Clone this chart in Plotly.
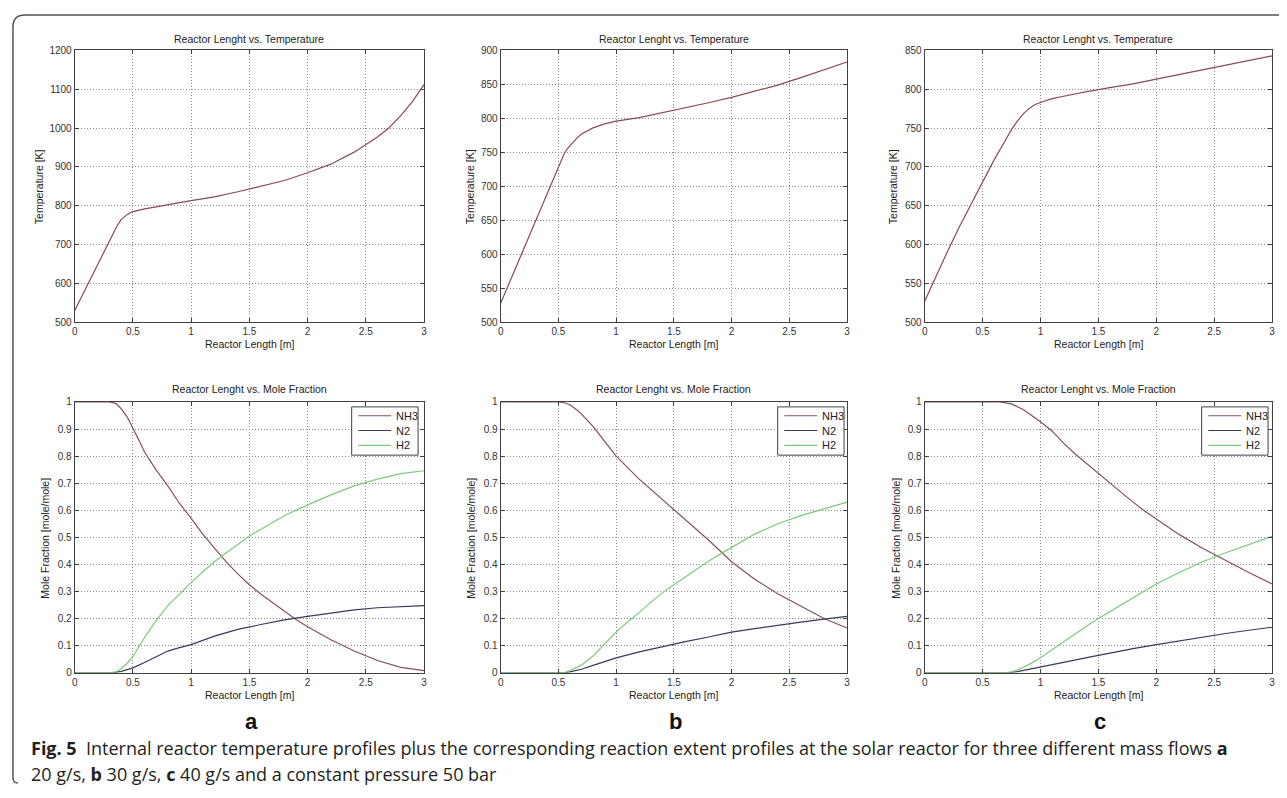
import plotly.graph_objects as go

# ---------------- data ----------------
x_ticks = [0, 0.5, 1, 1.5, 2, 2.5, 3]
x_tick_labels = ["0", "0.5", "1", "1.5", "2", "2.5", "3"]
mf_ticks = [0, 0.1, 0.2, 0.3, 0.4, 0.5, 0.6, 0.7, 0.8, 0.9, 1]
mf_tick_labels = ["0", "0.1", "0.2", "0.3", "0.4", "0.5", "0.6", "0.7", "0.8", "0.9", "1"]

# (a) 20 g/s temperature
temp_a_x = [0, 0.1, 0.2, 0.3, 0.36, 0.4, 0.45, 0.5, 0.6, 0.7, 0.8, 0.9, 1.0, 1.2, 1.4, 1.6, 1.8,
            2.0, 2.2, 2.4, 2.5, 2.6, 2.7, 2.8, 2.9, 3.0]
temp_a_T = [530, 590, 650, 710, 746, 765, 777, 785, 792, 797, 803, 808, 813, 823, 836, 850, 865,
            885, 907, 938, 957, 977, 1001, 1032, 1068, 1112]
# (b) 30 g/s temperature
temp_b_x = [0, 0.1, 0.2, 0.3, 0.4, 0.5, 0.55, 0.58, 0.62, 0.66, 0.7, 0.75, 0.8, 0.9, 1.0, 1.2,
            1.4, 1.6, 1.8, 2.0, 2.2, 2.4, 2.6, 2.8, 3.0]
temp_b_T = [528, 568, 608, 648, 690, 730, 748, 756, 764, 771, 777, 782, 786, 792, 796, 801,
            808, 815, 823, 831, 840, 849, 860, 871, 883]
# (c) 40 g/s temperature
temp_c_x = [0, 0.1, 0.2, 0.3, 0.4, 0.5, 0.6, 0.7, 0.75, 0.8, 0.85, 0.9, 0.95, 1.0, 1.1, 1.2, 1.4,
            1.6, 1.8, 2.0, 2.2, 2.4, 2.6, 2.8, 3.0]
temp_c_T = [527, 560, 592, 623, 652, 681, 709, 735, 748, 759, 768, 775, 780, 783, 788, 791, 797,
            802, 807, 813, 819, 825, 831, 837, 843]

# (a) mole fractions
nh3_a_x = [0, 0.3, 0.35, 0.4, 0.45, 0.5, 0.55, 0.6, 0.65, 0.7, 0.8, 0.9, 1.0, 1.1, 1.2, 1.3,
           1.4, 1.5, 1.6, 1.7, 1.8, 1.9, 2.0, 2.2, 2.4, 2.6, 2.8, 3.0]
nh3_a_y = [1, 1, 0.995, 0.975, 0.945, 0.905, 0.86, 0.815, 0.78, 0.748, 0.69, 0.625, 0.57, 0.512,
           0.46, 0.41, 0.365, 0.325, 0.29, 0.258, 0.228, 0.197, 0.17, 0.122, 0.08, 0.045, 0.02,
           0.008]
h2_a_x = [0, 0.3, 0.35, 0.4, 0.45, 0.5, 0.6, 0.7, 0.8, 0.9, 1.0, 1.1, 1.2, 1.3, 1.4, 1.5, 1.6,
          1.8, 2.0, 2.2, 2.4, 2.6, 2.8, 3.0]
h2_a_y = [0, 0, 0.003, 0.015, 0.035, 0.06, 0.13, 0.193, 0.248, 0.292, 0.333, 0.373, 0.41, 0.442,
          0.475, 0.505, 0.53, 0.58, 0.62, 0.657, 0.69, 0.715, 0.735, 0.746]
n2_a_x = [0, 0.33, 0.4, 0.5, 0.6, 0.7, 0.8, 0.9, 1.0, 1.2, 1.4, 1.6, 1.8, 2.0, 2.2, 2.4, 2.6,
          2.8, 3.0]
n2_a_y = [0, 0, 0.005, 0.018, 0.038, 0.06, 0.08, 0.093, 0.104, 0.135, 0.16, 0.178, 0.195, 0.208,
          0.22, 0.232, 0.24, 0.245, 0.248]

# (b) mole fractions
nh3_b_x = [0, 0.5, 0.55, 0.6, 0.66, 0.7, 0.8, 0.9, 1.0, 1.2, 1.4, 1.6, 1.8, 2.0, 2.2, 2.4, 2.6,
           2.8, 3.0]
nh3_b_y = [1, 1, 0.997, 0.99, 0.97, 0.955, 0.91, 0.855, 0.80, 0.715, 0.64, 0.565, 0.49, 0.41,
           0.345, 0.292, 0.245, 0.2, 0.165]
h2_b_x = [0, 0.55, 0.6, 0.7, 0.8, 0.9, 1.0, 1.1, 1.2, 1.3, 1.4, 1.5, 1.6, 1.7, 1.8, 1.9, 2.0,
          2.2, 2.4, 2.6, 2.8, 3.0]
h2_b_y = [0, 0, 0.008, 0.028, 0.062, 0.108, 0.15, 0.188, 0.222, 0.26, 0.295, 0.325, 0.355, 0.385,
          0.412, 0.438, 0.463, 0.512, 0.55, 0.58, 0.605, 0.63]
n2_b_x = [0, 0.55, 0.6, 0.7, 0.8, 0.9, 1.0, 1.2, 1.4, 1.6, 1.8, 2.0, 2.2, 2.4, 2.6, 2.8, 3.0]
n2_b_y = [0, 0, 0.003, 0.013, 0.027, 0.042, 0.055, 0.077, 0.097, 0.115, 0.132, 0.15, 0.163,
          0.176, 0.187, 0.198, 0.208]

# (c) mole fractions
nh3_c_x = [0, 0.65, 0.75, 0.85, 0.9, 1.0, 1.1, 1.2, 1.3, 1.4, 1.5, 1.6, 1.7, 1.8, 1.9, 2.0, 2.2,
           2.4, 2.6, 2.8, 3.0]
nh3_c_y = [1, 1, 0.993, 0.972, 0.957, 0.927, 0.893, 0.848, 0.808, 0.772, 0.735, 0.698, 0.665,
           0.63, 0.597, 0.568, 0.51, 0.46, 0.414, 0.37, 0.328]
h2_c_x = [0, 0.7, 0.75, 0.8, 0.9, 1.0, 1.1, 1.2, 1.3, 1.4, 1.5, 1.6, 1.8, 2.0, 2.2, 2.4, 2.6,
          2.8, 3.0]
h2_c_y = [0, 0, 0.003, 0.01, 0.03, 0.055, 0.085, 0.115, 0.145, 0.173, 0.2, 0.226, 0.279, 0.328,
          0.37, 0.41, 0.443, 0.474, 0.504]
n2_c_x = [0, 0.72, 0.8, 0.9, 1.0, 1.2, 1.4, 1.6, 1.8, 2.0, 2.2, 2.4, 2.6, 2.8, 3.0]
n2_c_y = [0, 0, 0.004, 0.012, 0.02, 0.038, 0.056, 0.073, 0.089, 0.104, 0.118, 0.132, 0.145,
          0.157, 0.168]

panel_letters = ["a", "b", "c"]
species = ["NH3", "N2", "H2"]
top_title = "Reactor Lenght vs. Temperature"
bottom_title = "Reactor Lenght vs. Mole Fraction"
x_title = "Reactor Length [m]"
temp_y_title = "Temperature [K]"
mf_y_title = "Mole Fraction [mole/mole]"
temp_ranges = [[500, 1200], [500, 900], [500, 850]]
temp_dticks = [100, 50, 50]
caption1 = ("<b>Fig. 5</b>  Internal reactor temperature profiles plus the corresponding reaction "
            "extent profiles at the solar reactor for three different mass flows <b>a</b>")
caption2 = "20 g/s, <b>b</b> 30 g/s, <b>c</b> 40 g/s and a constant pressure 50 bar"

# ---------------- styling / geometry ----------------
C_T = "#8a4a55"
C_NH3 = "#86505a"
C_N2 = "#38395f"
C_H2 = "#78cc78"
AX = "#404040"
TXT = "#222222"
FONT = "Liberation Sans"

OFF = 8              # browser body margin
W = 1287 - 2 * OFF   # figure size so that it fits the window
H = 798 - 2 * OFF


def px(x):
    return (x - OFF) / W


def py(y):
    return 1 - (y - OFF) / H


col_px = [(72, 423), (500, 848), (926, 1275)]
top_px = (45, 321)
bot_px = (402, 677)
legend_right = [417, 845, 1271]
legend_top, legend_bottom = 407, 456
legend_rows = [416, 431, 446]
ytitle_top_x = [36, 469, 894]
ytitle_bot_x = [42, 470, 897]

fig = go.Figure()

temps = [(temp_a_x, temp_a_T), (temp_b_x, temp_b_T), (temp_c_x, temp_c_T)]
fracs = [
    [(nh3_a_x, nh3_a_y), (n2_a_x, n2_a_y), (h2_a_x, h2_a_y)],
    [(nh3_b_x, nh3_b_y), (n2_b_x, n2_b_y), (h2_b_x, h2_b_y)],
    [(nh3_c_x, nh3_c_y), (n2_c_x, n2_c_y), (h2_c_x, h2_c_y)],
]
sp_colors = [C_NH3, C_N2, C_H2]

layout = {}
annotations = []
shapes = []


def axis_common():
    return dict(
        showgrid=True, gridcolor="#8a8a8a", griddash="1px,2px", gridwidth=1,
        showline=True, linecolor=AX, linewidth=1, mirror="ticks",
        ticks="inside", ticklen=4, tickcolor=AX, zeroline=False,
        tickfont=dict(family=FONT, size=10, color="#333333"),
    )


def label(text, x, y, size=10.5, angle=0, **kw):
    d = dict(text=text, x=px(x), y=py(y), xref="paper", yref="paper", showarrow=False,
             xanchor="center", yanchor="middle", textangle=angle,
             font=dict(family=FONT, size=size, color=TXT))
    d.update(kw)
    annotations.append(d)


for i in range(3):
    x0, x1 = col_px[i]
    ti = i + 1
    bi = i + 4
    sfx_t = "" if ti == 1 else str(ti)
    xa_t = axis_common()
    xa_t.update(domain=[px(x0), px(x1)], range=[0, 3], tickvals=x_ticks, ticktext=x_tick_labels,
                anchor="y" + sfx_t)
    ya_t = axis_common()
    ya_t.update(domain=[py(top_px[1]), py(top_px[0])], range=temp_ranges[i],
                dtick=temp_dticks[i], tick0=500, anchor="x" + sfx_t)
    xa_b = axis_common()
    xa_b.update(domain=[px(x0), px(x1)], range=[0, 3], tickvals=x_ticks, ticktext=x_tick_labels,
                anchor=f"y{bi}")
    ya_b = axis_common()
    ya_b.update(domain=[py(bot_px[1]), py(bot_px[0])], range=[0, 1], tickvals=mf_ticks,
                ticktext=mf_tick_labels, anchor=f"x{bi}")
    layout["xaxis" + sfx_t] = xa_t
    layout["yaxis" + sfx_t] = ya_t
    layout[f"xaxis{bi}"] = xa_b
    layout[f"yaxis{bi}"] = ya_b

    tx, tT = temps[i]
    fig.add_trace(go.Scatter(x=tx, y=tT, mode="lines", line=dict(color=C_T, width=1.2),
                             showlegend=False, name="Temperature",
                             xaxis="x" + sfx_t, yaxis="y" + sfx_t))
    for (sx, sy), name, c in zip(fracs[i], species, sp_colors):
        fig.add_trace(go.Scatter(x=sx, y=sy, mode="lines", name=name, showlegend=False,
                                 line=dict(color=c, width=1.2),
                                 xaxis=f"x{bi}", yaxis=f"y{bi}"))

    # legend box (MATLAB style, compact)
    R = legend_right[i]
    shapes.append(dict(type="rect", xref="paper", yref="paper",
                       x0=px(R - 66.7), x1=px(R), y0=py(legend_bottom), y1=py(legend_top),
                       line=dict(color=AX, width=1), fillcolor="white", layer="above"))
    for name, c, ry in zip(species, sp_colors, legend_rows):
        shapes.append(dict(type="line", xref="paper", yref="paper",
                           x0=px(R - 60), x1=px(R - 27), y0=py(ry), y1=py(ry),
                           line=dict(color=c, width=1.2), layer="above"))
        label(name, R - 24, ry, size=11, xanchor="left")

    cx = (x0 + x1) / 2
    label(top_title, cx, 33)
    label(bottom_title, cx, 389)
    label(x_title, cx, 343)
    label(x_title, cx, 700)
    label(f"<b>{panel_letters[i]}</b>", cx + 2, 727,
          font=dict(family=FONT, size=22, color="#111111"))
    label(temp_y_title, ytitle_top_x[i], 183, angle=-90)
    label(mf_y_title, ytitle_bot_x[i], 540, angle=-90)

for txt, yy in [(caption1, 753), (caption2, 780)]:
    label(txt, 26, yy, xanchor="left", align="left",
          font=dict(family="Open Sans", size=18, color="#231f20"))

frame_path = (f"M {px(1287)},{py(9)} L {px(22)},{py(9)} Q {px(10)},{py(9)} {px(10)},{py(21)} "
              f"L {px(10)},{py(784)} Q {px(10)},{py(789)} {px(15)},{py(789)}")
shapes.append(dict(type="path", path=frame_path, xref="paper", yref="paper",
                   line=dict(color="#555555", width=1.5)))

layout.update(
    width=W, height=H,
    margin=dict(l=0, r=0, t=0, b=0),
    paper_bgcolor="white", plot_bgcolor="white",
    annotations=annotations,
    shapes=shapes,
    showlegend=False,
    font=dict(family=FONT),
)
fig.update_layout(**layout)
fig.write_html("out.html")
